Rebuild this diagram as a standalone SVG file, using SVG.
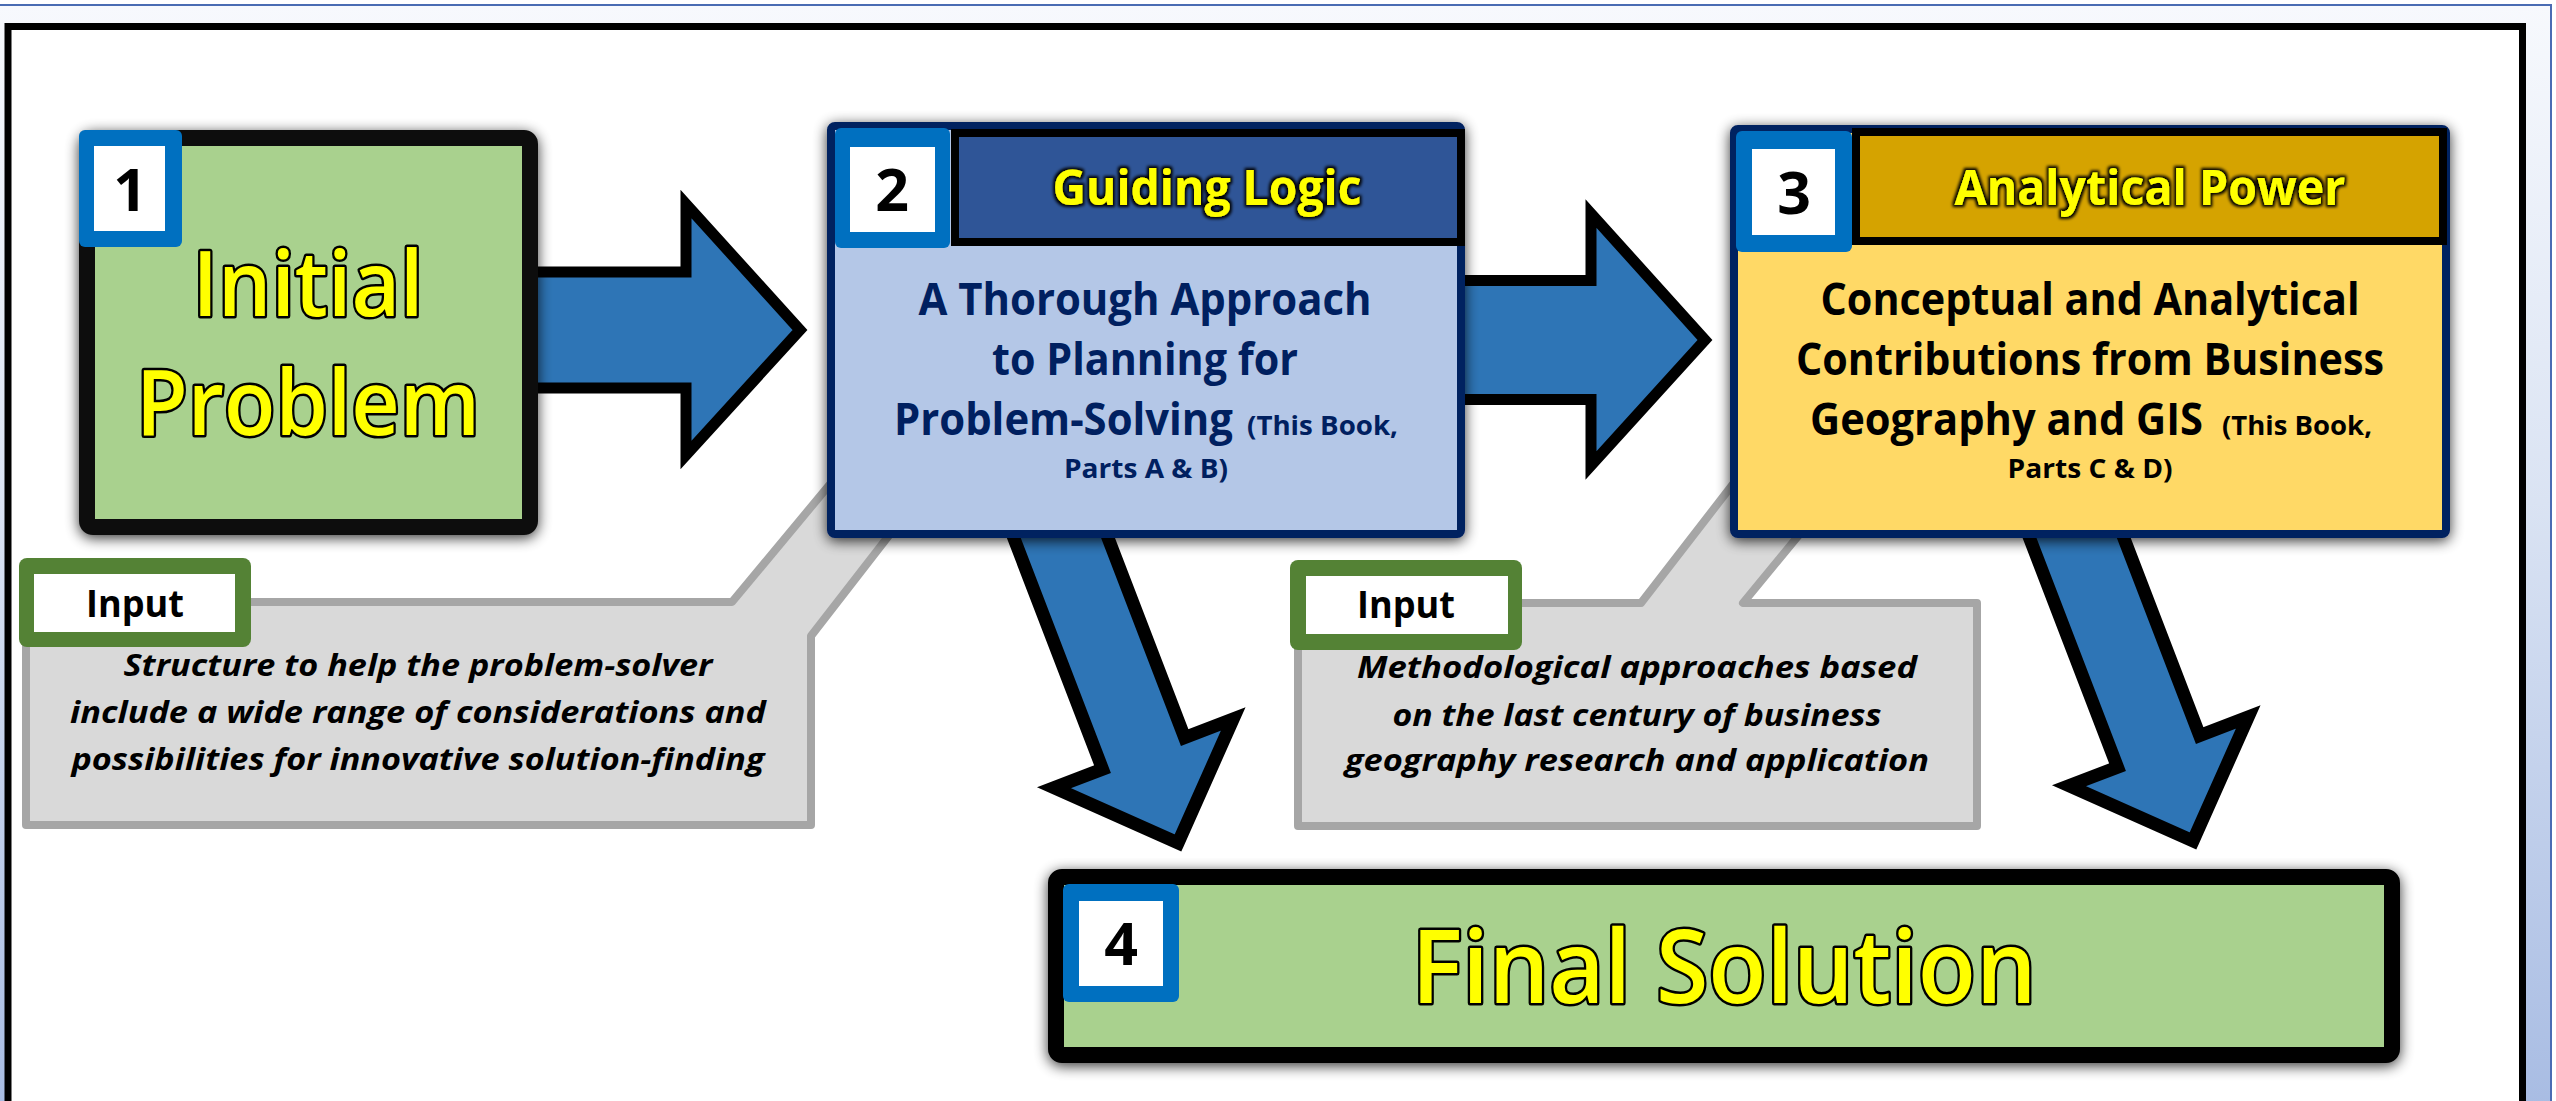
<svg xmlns="http://www.w3.org/2000/svg" width="2556" height="1101" viewBox="0 0 2556 1101">
<defs>
<linearGradient id="bg" x1="0" y1="0" x2="0" y2="1">
<stop offset="0" stop-color="#f7f9fd"/><stop offset="0.45" stop-color="#dae3f3"/><stop offset="1" stop-color="#a8bce3"/>
</linearGradient>
<filter id="sh" x="-6%" y="-12%" width="112%" height="130%">
<feGaussianBlur in="SourceAlpha" stdDeviation="7"/><feOffset dy="3"/>
<feComponentTransfer><feFuncA type="linear" slope="0.8"/></feComponentTransfer>
<feMerge><feMergeNode/><feMergeNode in="SourceGraphic"/></feMerge>
</filter>
<filter id="glow" x="-10%" y="-30%" width="120%" height="160%">
<feMorphology in="SourceAlpha" operator="dilate" radius="2"/><feGaussianBlur stdDeviation="1.6"/>
<feMerge><feMergeNode/><feMergeNode in="SourceGraphic"/></feMerge>
</filter>
<style>
text{font-family:"Open Sans","Noto Sans","Liberation Sans",sans-serif}
.big{font-size:90px;font-weight:600;fill:#ffff00;stroke:#000;stroke-width:5px;paint-order:stroke;stroke-linejoin:round;text-anchor:middle}
.num{font-weight:700;font-size:59px;fill:#000;text-anchor:middle}
.hdr{font-weight:700;font-size:49px;fill:#ffff00;text-anchor:middle}
.b2{font-weight:700;font-size:45px;fill:#002060}
.b3{font-weight:700;font-size:45px;fill:#000}
.sm{font-size:27px}
.mid{text-anchor:middle}
.inp{font-weight:700;font-size:37px;fill:#000;text-anchor:middle}
.it{font-weight:700;font-style:italic;font-size:30px;fill:#000;text-anchor:middle}
.badge{fill:#0070c0}
.wh{fill:#fff}
.green{fill:#548235}
.arr{fill:#2e75b6;stroke:#000;stroke-width:11;stroke-linejoin:miter;stroke-miterlimit:10}
.darr{fill:#2e75b6;stroke:#000;stroke-width:13;stroke-linejoin:miter;stroke-miterlimit:10}
.call{fill:#d9d9d9;stroke:#a6a6a6;stroke-width:8;stroke-linejoin:round}
</style>
</defs>
<rect width="2556" height="1101" fill="#fff"/>
<rect x="-4" y="5" width="2555" height="1104" fill="url(#bg)" stroke="#4a6cb3" stroke-width="2"/>
<rect x="8" y="26.5" width="2514.5" height="1080" fill="#fff" stroke="#000" stroke-width="7"/>

<g id="connectors">
<polygon class="arr" points="530,272 686,272 686,204 800,330 686,455 686,388 530,388"/>
<polygon class="arr" points="1455,280.5 1591,280.5 1591,213.5 1705,340 1591,465.5 1591,399.5 1455,399.5"/>
<polygon class="darr" transform="translate(1178,843) rotate(69)" points="0,0 -96,-96 -96,-44 -400,-44 -400,44 -96,44 -96,96"/>
<polygon class="darr" transform="translate(2193,841) rotate(69)" points="0,0 -96,-96 -96,-44 -400,-44 -400,44 -96,44 -96,96"/>
</g>

<g id="input1">
<path class="call" d="M26,602 L732,602 L900,400 L994,400 L811,636 L811,825 L26,825 Z"/>
<rect class="green" x="19" y="558" width="232" height="89" rx="8"/>
<rect class="wh" x="34" y="574" width="201" height="58"/>
<text class="inp" x="135" y="617" textLength="98" lengthAdjust="spacingAndGlyphs">Input</text>
<text class="it" x="418" y="676" textLength="589" lengthAdjust="spacingAndGlyphs">Structure to help the problem-solver</text>
<text class="it" x="418" y="723" textLength="696" lengthAdjust="spacingAndGlyphs">include a wide range of considerations and</text>
<text class="it" x="418" y="770" textLength="693" lengthAdjust="spacingAndGlyphs">possibilities for innovative solution-finding</text>
</g>

<g id="input2">
<path class="call" d="M1298,603 L1641,603 L1798,400 L1910,400 L1743,603 L1977,603 L1977,826 L1298,826 Z"/>
<rect class="green" x="1290" y="560" width="232" height="90" rx="8"/>
<rect class="wh" x="1306" y="576" width="202" height="58"/>
<text class="inp" x="1406" y="618" textLength="98" lengthAdjust="spacingAndGlyphs">Input</text>
<text class="it" x="1637" y="678" textLength="560" lengthAdjust="spacingAndGlyphs">Methodological approaches based</text>
<text class="it" x="1637" y="726" textLength="489" lengthAdjust="spacingAndGlyphs">on the last century of business</text>
<text class="it" x="1637" y="771" textLength="584" lengthAdjust="spacingAndGlyphs">geography research and application</text>
</g>

<g id="node1">
<rect x="87" y="138" width="443" height="389" rx="6" fill="#a9d18e" stroke="#0d0d0d" stroke-width="16" filter="url(#sh)"/>
<rect class="badge" x="79" y="130" width="103" height="117" rx="6"/>
<rect class="wh" x="94" y="146" width="71" height="85"/>
<text class="num" x="130" y="211">1</text>
<text class="big" x="308" y="316" textLength="231" lengthAdjust="spacingAndGlyphs">Initial</text>
<text class="big" x="308" y="435" textLength="344" lengthAdjust="spacingAndGlyphs">Problem</text>
</g>

<g id="node2">
<rect x="831" y="126" width="630" height="408" rx="4" fill="#b4c7e7" stroke="#002060" stroke-width="8" filter="url(#sh)"/>
<rect x="955" y="133" width="506" height="109" fill="#2f5597" stroke="#000" stroke-width="8"/>
<rect class="badge" x="835" y="128" width="115" height="120" rx="6"/>
<rect class="wh" x="850" y="147" width="85" height="85"/>
<text class="num" x="892" y="211">2</text>
<text class="hdr" x="1207" y="205" textLength="309" lengthAdjust="spacingAndGlyphs" filter="url(#glow)">Guiding Logic</text>
<text class="b2 mid" x="1145" y="315" textLength="453" lengthAdjust="spacingAndGlyphs">A Thorough Approach</text>
<text class="b2 mid" x="1145" y="375" textLength="306" lengthAdjust="spacingAndGlyphs">to Planning for</text>
<text class="b2" x="894" y="435" textLength="339" lengthAdjust="spacingAndGlyphs">Problem-Solving</text>
<text class="b2 sm" x="1247" y="435" textLength="151" lengthAdjust="spacingAndGlyphs">(This Book,</text>
<text class="b2 sm mid" x="1146" y="478" textLength="164" lengthAdjust="spacingAndGlyphs">Parts A &amp; B)</text>
</g>

<g id="node3">
<rect x="1734" y="129" width="712" height="405" rx="4" fill="#ffd966" stroke="#002060" stroke-width="8" filter="url(#sh)"/>
<rect x="1856" y="132" width="587" height="109" fill="#d5a300" stroke="#000" stroke-width="8"/>
<rect class="badge" x="1736" y="131" width="116" height="121" rx="6"/>
<rect class="wh" x="1752" y="149" width="83" height="86"/>
<text class="num" x="1794" y="214">3</text>
<text class="hdr" x="2150" y="205" textLength="391" lengthAdjust="spacingAndGlyphs" filter="url(#glow)">Analytical Power</text>
<text class="b3 mid" x="2090" y="315" textLength="539" lengthAdjust="spacingAndGlyphs">Conceptual and Analytical</text>
<text class="b3 mid" x="2090" y="375" textLength="588" lengthAdjust="spacingAndGlyphs">Contributions from Business</text>
<text class="b3" x="1810" y="435" textLength="393" lengthAdjust="spacingAndGlyphs">Geography and GIS</text>
<text class="b3 sm" x="2222" y="435" textLength="150" lengthAdjust="spacingAndGlyphs">(This Book,</text>
<text class="b3 sm mid" x="2090" y="478" textLength="165" lengthAdjust="spacingAndGlyphs">Parts C &amp; D)</text>
</g>

<g id="node4">
<rect x="1056" y="877" width="1336" height="178" rx="6" fill="#a9d18e" stroke="#000" stroke-width="16" filter="url(#sh)"/>
<rect class="badge" x="1063" y="884" width="116" height="118" rx="6"/>
<rect class="wh" x="1079" y="901" width="84" height="85"/>
<text class="num" x="1121" y="965">4</text>
<text class="big" x="1724" y="1003" style="font-size:102px" textLength="625" lengthAdjust="spacingAndGlyphs">Final Solution</text>
</g>
</svg>
